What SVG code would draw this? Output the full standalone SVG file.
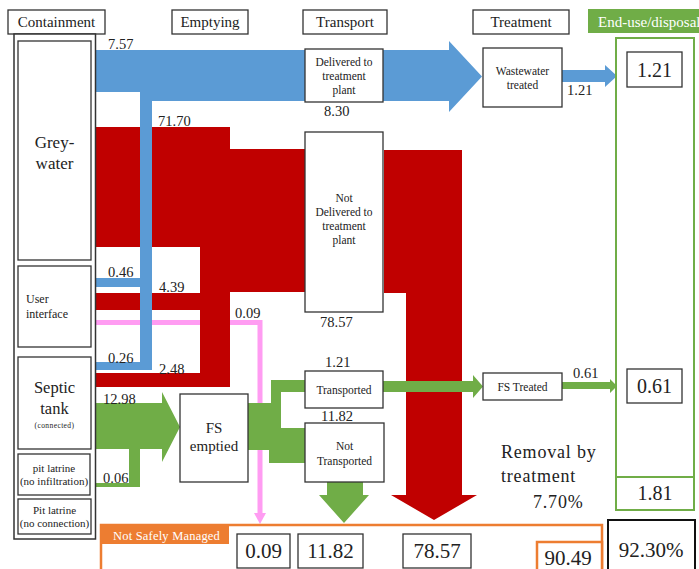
<svg xmlns="http://www.w3.org/2000/svg" width="699" height="569" viewBox="0 0 699 569" font-family="'Liberation Serif', 'DejaVu Serif', serif">
<style>
text{font-family:"Liberation Serif","DejaVu Serif",serif;fill:#222}
.box{fill:#fff;stroke:#333;stroke-width:1.3}
.hd{font-size:15px;text-anchor:middle}
.lbl{font-size:14.5px}
.s11{font-size:11.5px;text-anchor:middle}
.big{font-size:21px;text-anchor:middle}
.blue{fill:#5B9BD5}
.red{fill:#C00000}
.green{fill:#70AD47}
</style>
<rect width="699" height="569" fill="#fff"/>

<g id="connectors">
  <polyline points="96,322.5 260,322.5 260,514" fill="none" stroke="#FF9CF2" stroke-width="5"/>
  <path d="M254,513 H266 L260,524 Z" fill="#FF9CF2"/>
  <path class="red" d="M96,127 H230 V149 H305 V292 H230 V387 H96 V373 H200 V310 H96 V293 H200 V247 H96 Z"/>
  <path class="red" d="M384,150 H462 V495 H477 L434,520 L391,495 H406 V293 H384 Z"/>
  <path class="green" d="M96,403 H162 V392 L180,427 L162,462 V449 H140 V487 H96 V483 H129 V449 H96 Z"/>
  <rect class="green" x="248" y="403" width="24" height="47"/>
  <path class="green" d="M271,380 H305 V392 H281 V430 H271 Z"/>
  <rect class="green" x="269" y="428" width="36" height="35"/>
  <path class="green" d="M383,381 H473 V375 L483,386.5 L473,398 V392 H383 Z"/>
  <path class="green" d="M562,382 H610 V379 L617,386 L610,393 V389 H562 Z"/>
  <path class="green" d="M327,482 H363 V495 H369 L344,523 L319,495 H327 Z"/>
  <path class="blue" d="M96,50 H449 V41 L482,76.5 L449,112 V101 H152 V370 H96 V362 H140 V287 H96 V278 H140 V92 H96 Z"/>
  <path class="blue" d="M562,70 H605 V65 L617,76 L605,87 V82 H562 Z"/>
  <text class="lbl" x="108" y="49">7.57</text>
  <text class="lbl" x="158" y="126">71.70</text>
  <text class="lbl" x="108" y="277">0.46</text>
  <text class="lbl" x="159" y="292">4.39</text>
  <text class="lbl" x="235" y="318">0.09</text>
  <text class="lbl" x="108" y="363">0.26</text>
  <text class="lbl" x="159" y="374">2.48</text>
  <text class="lbl" x="103" y="404">12.98</text>
  <text class="lbl" x="103" y="483">0.06</text>
  <text class="lbl" x="324" y="116">8.30</text>
  <text class="lbl" x="320" y="327">78.57</text>
  <text class="lbl" x="325" y="367">1.21</text>
  <text class="lbl" x="321" y="421">11.82</text>
  <text class="lbl" x="567" y="95">1.21</text>
  <text class="lbl" x="573" y="378">0.61</text>
</g>

<g id="hdr-containment"><rect class="box" x="8" y="10" width="97" height="24"/><text class="hd" x="56.5" y="27">Containment</text></g>
<g id="hdr-emptying"><rect class="box" x="172" y="10" width="76" height="24"/><text class="hd" x="210" y="27">Emptying</text></g>
<g id="hdr-transport"><rect class="box" x="303" y="10" width="84" height="24"/><text class="hd" x="345" y="27">Transport</text></g>
<g id="hdr-treatment"><rect class="box" x="473" y="10" width="96" height="24"/><text class="hd" x="521" y="27">Treatment</text></g>
<g id="hdr-enduse"><rect x="588" y="9" width="115" height="24" fill="#70AD47"/><text x="598" y="27" style="font-size:15px;fill:#fff">End-use/disposal</text></g>

<g id="containment"><rect x="14" y="34" width="81.5" height="505" fill="#fff" stroke="#333" stroke-width="1.5"/></g>
<g id="greywater"><rect class="box" x="18" y="41" width="73" height="219"/>
  <text x="54.5" y="148" style="font-size:17px;text-anchor:middle">Grey-</text>
  <text x="54.5" y="169" style="font-size:17px;text-anchor:middle">water</text></g>
<g id="user-interface"><rect class="box" x="18" y="266" width="73" height="81"/>
  <text x="26" y="303" style="font-size:12px">User</text>
  <text x="26" y="318" style="font-size:12px">interface</text></g>
<g id="septic-tank"><rect class="box" x="18" y="357" width="73" height="92"/>
  <text x="54.5" y="393" style="font-size:16.5px;text-anchor:middle">Septic</text>
  <text x="54.5" y="414" style="font-size:16.5px;text-anchor:middle">tank</text>
  <text x="54.5" y="428" style="font-size:7.5px;text-anchor:middle;letter-spacing:0.4px">(connected)</text></g>
<g id="pit-noinf"><rect class="box" x="18" y="454" width="72" height="41"/>
  <text class="s11" x="54" y="472" style="font-size:11px">pit latrine</text>
  <text class="s11" x="54" y="485" style="font-size:11px">(no infiltration)</text></g>
<g id="pit-nocon"><rect class="box" x="18" y="499" width="73" height="35"/>
  <text class="s11" x="54.5" y="514" style="font-size:11px">Pit latrine</text>
  <text class="s11" x="54.5" y="527" style="font-size:11px">(no connection)</text></g>

<g id="delivered"><rect class="box" x="305" y="49" width="78" height="53"/>
  <text class="s11" x="344" y="66">Delivered to</text>
  <text class="s11" x="344" y="80">treatment</text>
  <text class="s11" x="344" y="94">plant</text></g>
<g id="not-delivered"><rect class="box" x="305" y="132" width="78" height="180"/>
  <text class="s11" x="344" y="202">Not</text>
  <text class="s11" x="344" y="216">Delivered to</text>
  <text class="s11" x="344" y="230">treatment</text>
  <text class="s11" x="344" y="244">plant</text></g>
<g id="wastewater-treated"><rect class="box" x="483" y="48" width="79" height="59"/>
  <text class="s11" x="522.5" y="75">Wastewater</text>
  <text class="s11" x="522.5" y="89">treated</text></g>
<g id="fs-emptied"><rect class="box" x="180" y="394" width="68" height="88"/>
  <text x="214" y="433" style="font-size:15px;text-anchor:middle">FS</text>
  <text x="214" y="451" style="font-size:15px;text-anchor:middle">emptied</text></g>
<g id="transported"><rect class="box" x="305" y="371" width="78" height="37"/>
  <text class="s11" x="344" y="394">Transported</text></g>
<g id="not-transported"><rect class="box" x="305" y="423" width="79" height="59"/>
  <text class="s11" x="344.5" y="450">Not</text>
  <text class="s11" x="344.5" y="465">Transported</text></g>
<g id="fs-treated"><rect class="box" x="483" y="373" width="79" height="27"/>
  <text class="s11" x="522.5" y="391">FS Treated</text></g>

<g id="end-use"><rect x="616" y="38" width="78" height="472" fill="none" stroke="#70AD47" stroke-width="2"/>
  <line x1="616" y1="477" x2="694" y2="477" stroke="#70AD47" stroke-width="2"/>
  <text class="big" x="655" y="500" style="font-size:20px">1.81</text></g>
<g id="enduse-121"><rect class="box" x="627" y="52" width="55" height="35"/><text class="big" x="654.5" y="77" style="font-size:20px">1.21</text></g>
<g id="enduse-061"><rect class="box" x="627" y="369" width="55" height="34"/><text class="big" x="654.5" y="393" style="font-size:20px">0.61</text></g>

<g id="removal"><text x="501" y="458" style="font-size:18px;letter-spacing:0.8px">Removal by</text>
  <text x="501" y="482" style="font-size:18px;letter-spacing:0.8px">treatment</text>
  <text x="533" y="508" style="font-size:18px;letter-spacing:0.8px">7.70%</text></g>

<g id="not-safely-managed">
  <polyline points="101,575 101,525 602,525 602,575" fill="none" stroke="#ED7D31" stroke-width="2.5"/>
  <rect x="101" y="525" width="128" height="19" fill="#ED7D31"/>
  <text x="113" y="540" style="font-size:12.5px;fill:#fff;letter-spacing:0.2px">Not Safely Managed</text></g>
<g id="nsm-009"><rect class="box" x="237" y="534" width="53" height="34"/><text class="big" x="263.5" y="558">0.09</text></g>
<g id="nsm-1182"><rect class="box" x="298" y="534" width="65" height="34"/><text class="big" x="330.5" y="558">11.82</text></g>
<g id="nsm-7857"><rect class="box" x="403" y="534" width="68" height="34"/><text class="big" x="437" y="558">78.57</text></g>
<g id="nsm-total"><rect x="537" y="542" width="65" height="35" fill="#fff" stroke="#ED7D31" stroke-width="2.5"/><text class="big" x="568" y="565">90.49</text></g>
<g id="unsafe-total"><rect x="608" y="520" width="87" height="55" fill="#fff" stroke="#111" stroke-width="2"/><text class="big" x="651" y="557">92.30%</text></g>
</svg>
